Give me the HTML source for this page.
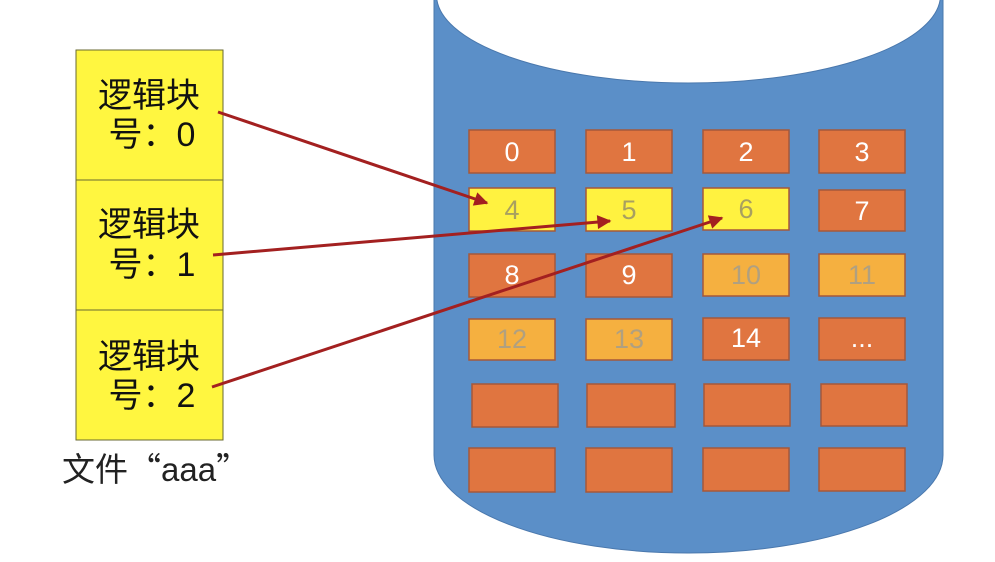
<!DOCTYPE html>
<html><head><meta charset="utf-8"><style>
body{margin:0;background:#fff;width:995px;height:557px;overflow:hidden}
svg text{font-family:"Liberation Sans","Noto Sans CJK SC",sans-serif}
</style></head><body>
<svg width="995" height="557" viewBox="0 0 995 557" xmlns="http://www.w3.org/2000/svg">
<defs>
<marker id="b" viewBox="0 0 10 10" refX="9" refY="5" markerWidth="16" markerHeight="14" orient="auto" markerUnits="userSpaceOnUse"><path d="M0,0 L10,5 L0,10 Z" fill="#a32020"/></marker></defs>
<path d="M434,-5 L434,455 A254.5,98 0 0 0 943,455 L943,-5 Z" fill="#5b8fc8" stroke="#4a78ad" stroke-width="1"/>
<ellipse cx="688.5" cy="-5" rx="252" ry="88" fill="#fff" stroke="#4a78ad" stroke-width="1"/>
<g stroke="#a5583a" stroke-width="1.5" font-size="27" text-anchor="middle">
<rect x="469" y="130" width="86" height="43" fill="#e07540"/><text x="512" y="161" fill="#fff" stroke="none">0</text>
<rect x="586" y="130" width="86" height="43" fill="#e07540"/><text x="629" y="161" fill="#fff" stroke="none">1</text>
<rect x="703" y="130" width="86" height="43" fill="#e07540"/><text x="746" y="161" fill="#fff" stroke="none">2</text>
<rect x="819" y="130" width="86" height="43" fill="#e07540"/><text x="862" y="161" fill="#fff" stroke="none">3</text>
<rect x="469" y="188" width="86" height="43" fill="#fff240"/><text x="512" y="219" fill="#a8a060" stroke="none">4</text>
<rect x="586" y="188" width="86" height="43" fill="#fff240"/><text x="629" y="219" fill="#a8a060" stroke="none">5</text>
<rect x="703" y="188" width="86" height="42" fill="#fff240"/><text x="746" y="218" fill="#a8a060" stroke="none">6</text>
<rect x="819" y="190" width="86" height="41" fill="#e07540"/><text x="862" y="220" fill="#fff" stroke="none">7</text>
<rect x="469" y="254" width="86" height="43" fill="#e07540"/><text x="512" y="284" fill="#fff" stroke="none">8</text>
<rect x="586" y="254" width="86" height="43" fill="#e07540"/><text x="629" y="284" fill="#fff" stroke="none">9</text>
<rect x="703" y="254" width="86" height="42" fill="#f5b040"/><text x="746" y="284" fill="#b0a080" stroke="none">10</text>
<rect x="819" y="254" width="86" height="42" fill="#f5b040"/><text x="862" y="284" fill="#b0a080" stroke="none">11</text>
<rect x="469" y="319" width="86" height="41" fill="#f5b040"/><text x="512" y="348" fill="#b0a080" stroke="none">12</text>
<rect x="586" y="319" width="86" height="41" fill="#f5b040"/><text x="629" y="348" fill="#b0a080" stroke="none">13</text>
<rect x="703" y="318" width="86" height="42" fill="#e07540"/><text x="746" y="347" fill="#fff" stroke="none">14</text>
<rect x="819" y="318" width="86" height="42" fill="#e07540"/><text x="862" y="347" fill="#fff" stroke="none">...</text>
<rect x="472" y="384" width="86" height="43" fill="#e07540"/>
<rect x="587" y="384" width="88" height="43" fill="#e07540"/>
<rect x="704" y="384" width="86" height="42" fill="#e07540"/>
<rect x="821" y="384" width="86" height="42" fill="#e07540"/>
<rect x="469" y="448" width="86" height="44" fill="#e07540"/>
<rect x="586" y="448" width="86" height="44" fill="#e07540"/>
<rect x="703" y="448" width="86" height="43" fill="#e07540"/>
<rect x="819" y="448" width="86" height="43" fill="#e07540"/>
</g>
<g fill="#fff640" stroke="#6a6a30" stroke-width="1">
<rect x="76" y="50" width="147" height="130"/>
<rect x="76" y="180" width="147" height="130"/>
<rect x="76" y="310" width="147" height="130"/>
</g>
<g font-size="34" fill="#111" text-anchor="middle">
<text x="149" y="107">逻辑块</text><text x="152" y="146">号：0</text>
<text x="149" y="236">逻辑块</text><text x="152" y="276">号：1</text>
<text x="149" y="368">逻辑块</text><text x="152" y="407">号：2</text>
</g>
<text x="62" y="481" font-size="33" fill="#222" style="font-family:'Noto Sans CJK SC',sans-serif">文件“<tspan style="font-family:'Liberation Sans',sans-serif">aaa</tspan>”</text>
<g stroke="#a32020" stroke-width="3" fill="none">
<line x1="218" y1="112" x2="487" y2="203" marker-end="url(#b)"/>
<line x1="213" y1="255" x2="610" y2="221" marker-end="url(#b)"/>
<line x1="212" y1="387" x2="722" y2="218" marker-end="url(#b)"/>
</g>
</svg>
</body></html>
